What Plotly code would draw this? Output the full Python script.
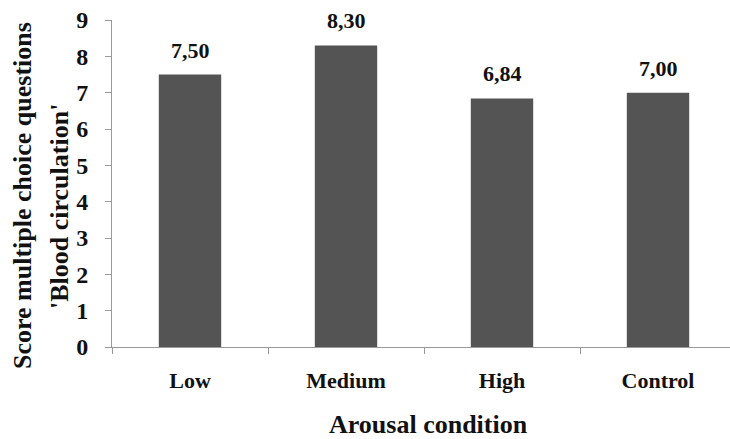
import plotly.graph_objects as go

conditions = ["Low", "Medium", "High", "Control"]
scores = [7.50, 8.30, 6.84, 7.00]
y_ticks = [0, 1, 2, 3, 4, 5, 6, 7, 8, 9]

SERIF = "Liberation Serif, Times New Roman, serif"
W, H = 730, 439
L, R, T, B = 112, 0, 20, 92
plot_w = W - L - R
plot_h = H - T - B


def px_x(p):
    return (p - L) / plot_w


def px_y(p):
    return (H - B - p) / plot_h


fig = go.Figure()
fig.add_trace(go.Bar(
    x=conditions,
    y=scores,
    marker=dict(color="#545454", line=dict(width=0)),
    width=0.4,
    hoverinfo="skip",
))

# value labels above each bar, comma as decimal separator
for c, v in zip(conditions, scores):
    fig.add_annotation(
        x=c, y=v, xref="x", yref="y",
        text="<b>" + f"{v:.2f}".replace(".", ",") + "</b>",
        showarrow=False, yanchor="bottom", yshift=10,
        font=dict(family=SERIF, size=22, color="#111111"),
    )

# two-line y-axis title
fig.add_annotation(
    x=px_x(23), y=px_y(196), xref="paper", yref="paper",
    text="<b>Score multiple choice questions</b>",
    textangle=-90, showarrow=False, xanchor="center", yanchor="middle",
    font=dict(family=SERIF, size=26, color="#111111"),
)
fig.add_annotation(
    x=px_x(59), y=px_y(207), xref="paper", yref="paper",
    text="<b>'Blood circulation'</b>",
    textangle=-90, showarrow=False, xanchor="center", yanchor="middle",
    font=dict(family=SERIF, size=26, color="#111111"),
)

# x-axis title
fig.add_annotation(
    x=px_x(428), y=px_y(425), xref="paper", yref="paper",
    text="<b>Arousal condition</b>",
    showarrow=False, xanchor="center", yanchor="middle",
    font=dict(family=SERIF, size=26, color="#111111"),
)

fig.update_layout(
    width=W, height=H,
    margin=dict(l=L, r=R, t=T, b=B, pad=0),
    paper_bgcolor="white", plot_bgcolor="white",
    showlegend=False,
    bargap=0.6,
    font=dict(family=SERIF, color="#111111"),
)

fig.update_xaxes(
    type="category",
    range=[-0.5, -0.5 + plot_w / 156],
    tickson="boundaries",
    ticks="outside", ticklen=6, tickcolor="#999999", tickwidth=1,
    showline=True, linecolor="#999999", linewidth=1,
    showgrid=False, zeroline=False,
    tickfont=dict(family=SERIF, size=22, color="#111111"),
    ticklabelstandoff=14,
    tickprefix="<b>", ticksuffix="</b>",
)

fig.update_yaxes(
    range=[0, 9],
    tickvals=y_ticks,
    ticktext=[f"<b>{t}</b>" for t in y_ticks],
    ticks="outside", ticklen=6, tickcolor="#999999", tickwidth=1,
    showline=True, linecolor="#999999", linewidth=1,
    showgrid=False, zeroline=False,
    tickfont=dict(family=SERIF, size=24, color="#111111"),
    ticklabelstandoff=12,
)

fig.write_html("out.html")
